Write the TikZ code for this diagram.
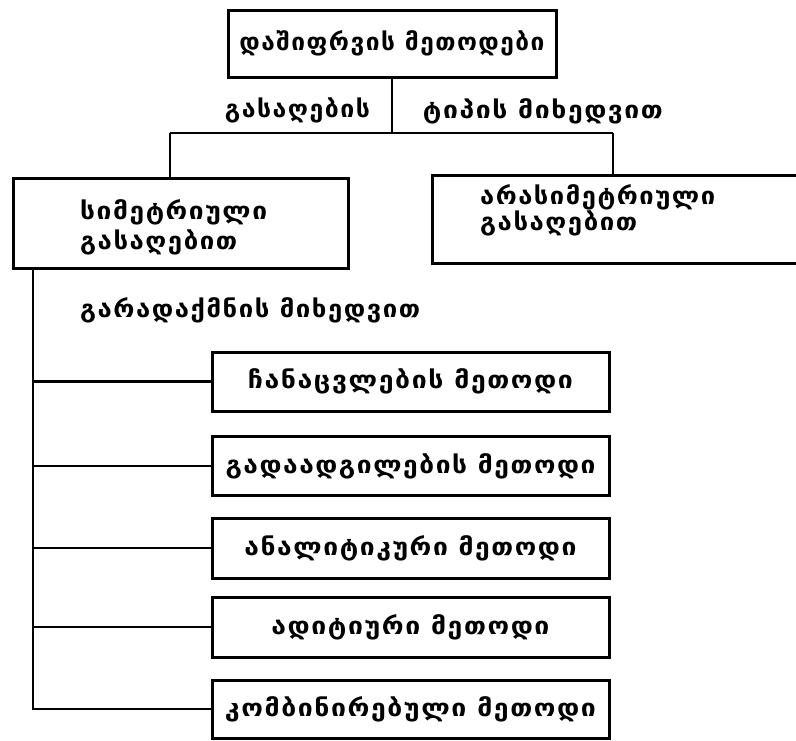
\documentclass[tikz,border=0pt]{standalone}
\usepackage{fontspec}
\usepackage{graphicx}
\setmainfont{DejaVu Sans}[LetterSpace=6]
\newcommand{\fitw}[2]{\resizebox{#1pt}{\height}{#2}}
\begin{document}
\begin{tikzpicture}[x=1pt,y=-1pt,
  box/.style={draw,line width=3pt,inner sep=0pt},
  lbl/.style={inner sep=0pt},
  conn/.style={line width=2pt},
  every node/.append style={font=\fontsize{24}{29}\selectfont\bfseries}]
\useasboundingbox (0,0) rectangle (796,740);
% top
\node[box,minimum width=328,minimum height=67] (top) at (392,43.5) {\fitw{305}{დაშიფრვის მეთოდები}};
\node[box,minimum width=335,minimum height=90] (sym) at (180.5,223) {};
\node[lbl,align=left,anchor=west,font=\fontsize{24}{30}\selectfont\bfseries] (symt) at (80,227) {\fitw{187}{სიმეტრიული}\\\fitw{157}{გასაღებით}};
\node[box,minimum width=380,minimum height=88] (asym) at (622,219) {};
\node[lbl,align=left,anchor=west,font=\fontsize{24}{25}\selectfont\bfseries] (asymt) at (480,210.5) {\fitw{235}{არასიმეტრიული}\\\fitw{157}{გასაღებით}};
\node[lbl] (k1) at (297.5,110) {\fitw{145}{გასაღების}};
\node[lbl] (k2) at (543,111) {\fitw{240}{ტიპის მიხედვით}};
\node[lbl,anchor=west] (k3) at (80,310) {\fitw{340}{გარადაქმნის მიხედვით}};
% methods
\node[box,minimum width=397,minimum height=59] (m1) at (410.5,381.5) {\fitw{325}{ჩანაცვლების მეთოდი}};
\node[box,minimum width=397,minimum height=59] (m2) at (410.5,466) {\fitw{370}{გადაადგილების მეთოდი}};
\node[box,minimum width=397,minimum height=60] (m3) at (410.5,548) {\fitw{332}{ანალიტიკური მეთოდი}};
\node[box,minimum width=397,minimum height=60] (m4) at (410.5,627) {\fitw{278}{ადიტიური მეთოდი}};
\node[box,minimum width=397,minimum height=58] (m5) at (410.5,709) {\fitw{371}{კომბინირებული მეთოდი}};
% connectors
\coordinate (jl) at (170,133);
\coordinate (jr) at (613,133);
\coordinate (tr) at (33,268);
\draw[conn] (top.south) -- (top.south |- jl);
\draw[conn] (jl) -- (jr);
\draw[conn] (jl) -- (jl |- sym.north);
\draw[conn] (jr) -- (jr |- asym.north);
\draw[conn] (tr) |- (m5.west);
\draw[conn,line width=3pt] (tr |- m1.west) -- (m1.west);
\draw[conn] (tr |- m2.west) -- (m2.west);
\draw[conn] (tr |- m3.west) -- (m3.west);
\draw[conn] (tr |- m4.west) -- (m4.west);
\end{tikzpicture}
\end{document}
